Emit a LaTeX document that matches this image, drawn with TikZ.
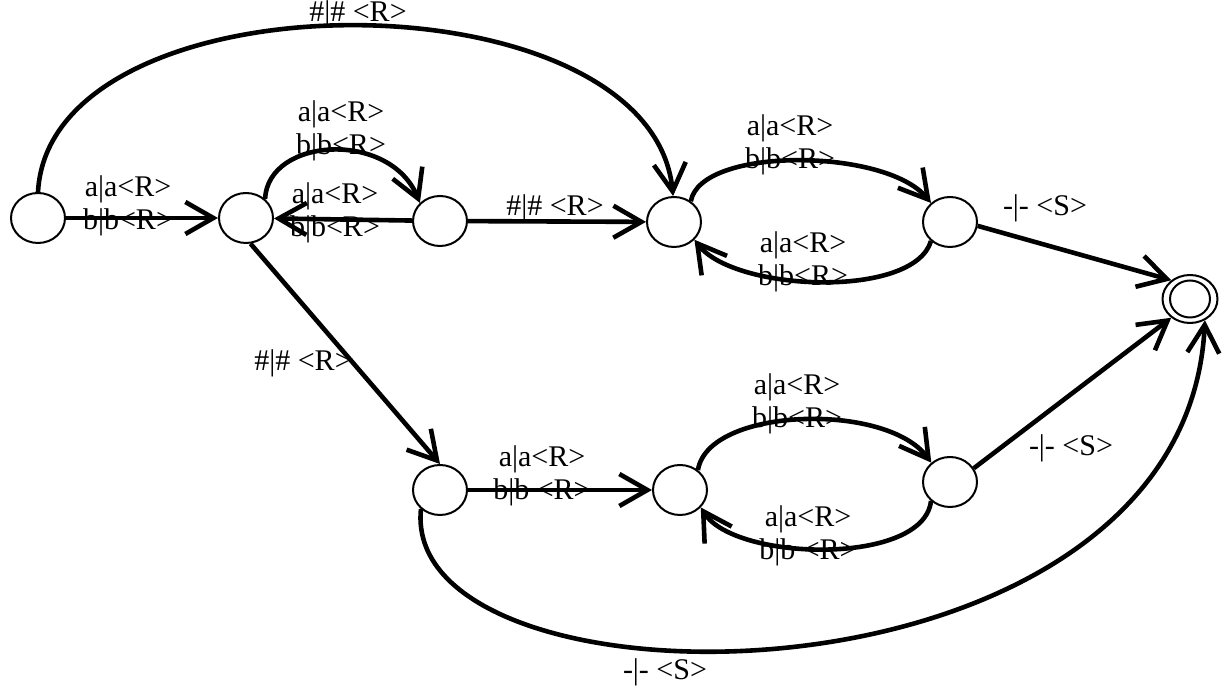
\documentclass[tikz,border=0pt]{standalone}
\usepackage{fontspec}
\setmainfont{Liberation Serif}
\usetikzlibrary{shapes.geometric,arrows.meta}
\begin{document}
\begin{tikzpicture}[x=0.5pt,y=-0.5pt,
  state/.style={ellipse,draw,line width=1pt,minimum width=27pt,minimum height=25pt,inner sep=0pt},
  edge/.style={line width=2.3pt,-{Straight Barb[length=14pt,width=16pt]}},
  lbl/.style={align=center,font=\fontsize{15}{16.8}\selectfont,inner sep=0pt}]
\useasboundingbox (0,0) rectangle (1226,688);
% states
\node[state] (q0) at (38,218) {};
\node[state] (q1) at (246,218) {};
\node[state] (q2) at (440,221) {};
\node[state] (q3) at (674,222) {};
\node[state] (q4) at (950,222) {};
\node[state] (q5) at (440,490) {};
\node[state] (q6) at (680,490) {};
\node[state] (q7) at (950,482) {};
\node[state,minimum width=27.5pt,minimum height=24pt] (qf) at (1190,299) {};
\node[state,minimum width=20pt,minimum height=18.5pt] (qfin) at (qf) {};
% connectors
\draw[edge] (q0) -- (q1);
\draw[edge] (q1.45) .. controls +(3,-62) and +(-30,-73) .. (q2.138);
\draw[edge] (q2) -- (q1);
\draw[edge] (q2) -- (q3);
\draw[edge] (q0.90) .. controls +(12,-222) and +(-23,-226) .. (q3.92);
\draw[edge] (q3.51) .. controls +(10,-55) and +(-45,-55) .. (q4.135);
\draw[edge] (q4.225) .. controls +(-17,58) and +(40,52) .. (q3.319);
\draw[edge] (q4.-8) -- (qf.135);
\draw[edge] (q1.280) -- (q5.90);
\draw[edge] (q5) -- (q6);
\draw[edge] (q6.48) .. controls +(10,-63) and +(-45,-61) .. (q7.134);
\draw[edge] (q7.225) .. controls +(-7,65) and +(34,54) .. (q6.320);
\draw[edge] (q7.30) -- (qf.225);
\draw[edge] (q5.225) .. controls +(-22,214) and +(-20,402) .. (qf.305);
% labels
\node[lbl] (l01) at (128,206) {a|a<R>\\b|b<R>};
\node[lbl] (l12) at (341,131) {a|a<R>\\b|b<R>};
\node[lbl] (l21) at (335,213) {a|a<R>\\b|b<R>};
\node[lbl] (l23) at (555,208) {\#|\# <R>};
\node[lbl] (l03) at (358,14) {\#|\# <R>};
\node[lbl] (l34) at (790,145) {a|a<R>\\b|b<R>};
\node[lbl] (l43) at (803,262) {a|a<R>\\b|b<R>};
\node[lbl] (l4f) at (1045,208) {-|- <S>};
\node[lbl] (l15) at (303,363) {\#|\# <R>};
\node[lbl] (l56) at (542,476) {a|a<R>\\b|b <R>};
\node[lbl] (l67) at (797,404) {a|a<R>\\b|b<R>};
\node[lbl] (l76) at (808,536) {a|a<R>\\b|b <R>};
\node[lbl] (l7f) at (1071,448) {-|- <S>};
\node[lbl] (l5f) at (665,672) {-|- <S>};
\end{tikzpicture}
\end{document}
